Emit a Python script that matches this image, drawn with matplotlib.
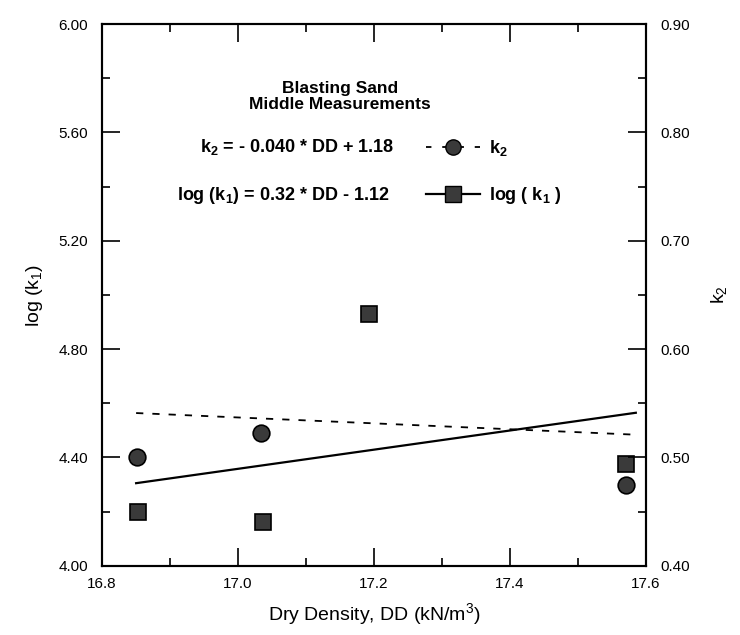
import matplotlib
matplotlib.use("Agg")
import matplotlib.pyplot as plt
from matplotlib.lines import Line2D
from matplotlib.ticker import MultipleLocator, FormatStrFormatter

plt.rcParams["font.family"] = ["Liberation Sans", "DejaVu Sans"]
plt.rcParams["mathtext.fontset"] = "custom"
plt.rcParams["mathtext.rm"] = "Liberation Sans"
plt.rcParams["mathtext.bf"] = "Liberation Sans:bold"
plt.rcParams["mathtext.default"] = "regular"

# measured points
dd_k1 = [16.853, 17.037, 17.193, 17.570]
log_k1 = [4.20, 4.16, 4.93, 4.376]
dd_k2 = [16.852, 17.033, 17.570]
k2 = [0.500, 0.523, 0.475]

# fitted lines as drawn (end points)
fit_dd = [16.85, 17.585]
fit_log_k1 = [4.305, 4.565]
fit_k2 = [0.541, 0.521]

fig = plt.figure(figsize=(7.4, 6.35), dpi=100)
ax = fig.add_axes([0.138, 0.109, 0.735, 0.853])
ax2 = ax.twinx()

ax.plot(fit_dd, fit_log_k1, color="black", lw=1.6)
ax.plot(dd_k1, log_k1, linestyle="none", marker="s", ms=12,
        mfc="#3a3a3a", mec="black", mew=1.2)
ax2.plot(fit_dd, fit_k2, color="black", lw=1.3, dashes=(4, 5))
ax2.plot(dd_k2, k2, linestyle="none", marker="o", ms=12,
         mfc="#3a3a3a", mec="black", mew=1.2)

ax.set_xlim(16.8, 17.6)
ax.set_ylim(4.0, 6.0)
ax2.set_ylim(0.40, 0.90)

ax.xaxis.set_major_locator(MultipleLocator(0.2))
ax.xaxis.set_minor_locator(MultipleLocator(0.1))
ax.xaxis.set_major_formatter(FormatStrFormatter("%.1f"))
ax.yaxis.set_major_locator(MultipleLocator(0.4))
ax.yaxis.set_minor_locator(MultipleLocator(0.2))
ax.yaxis.set_major_formatter(FormatStrFormatter("%.2f"))
ax2.yaxis.set_major_locator(MultipleLocator(0.1))
ax2.yaxis.set_minor_locator(MultipleLocator(0.05))
ax2.yaxis.set_major_formatter(FormatStrFormatter("%.2f"))

ax.tick_params(axis="x", which="both", direction="in", top=True, labelsize=11, pad=8)
ax.tick_params(axis="y", which="both", direction="in", labelsize=11, pad=10)
ax2.tick_params(axis="y", which="both", direction="in", labelsize=11, pad=10)
for a in (ax, ax2):
    a.tick_params(which="major", length=13, width=1.2)
    a.tick_params(which="minor", length=6, width=1.2)
    for s in a.spines.values():
        s.set_linewidth(1.5)

ax.set_xlabel("Dry Density, DD (kN/m$^{3}$)", fontsize=14, labelpad=7)
ax.set_ylabel("log (k$_{1}$)", fontsize=14, labelpad=10)
ax2.set_ylabel("k$_{2}$", fontsize=14, rotation=90, labelpad=14)

ax.text(0.4375, 0.867, "Blasting Sand\nMiddle Measurements", transform=ax.transAxes,
        ha="center", va="center", fontsize=12.5, fontweight="bold", linespacing=1.1)
ax.text(0.358, 0.773, "k$_{2}$ = - 0.040 * DD + 1.18", transform=ax.transAxes,
        ha="center", va="center", fontsize=13, fontweight="bold")
ax.text(0.333, 0.684, "log (k$_{1}$) = 0.32 * DD - 1.12", transform=ax.transAxes,
        ha="center", va="center", fontsize=13, fontweight="bold")

handles = [
    Line2D([], [], color="black", lw=1.3, dashes=(3, 6), marker="o", ms=11,
           mfc="#3a3a3a", mec="black"),
    Line2D([], [], color="black", lw=1.6, marker="s", ms=11,
           mfc="#3a3a3a", mec="black"),
]
ax.legend(handles, ["k$_{2}$", "log ( k$_{1}$ )"], loc="upper left",
          bbox_to_anchor=(0.565, 0.82), frameon=False, handlelength=3.0,
          handletextpad=0.5, labelspacing=1.5,
          prop={"size": 13, "weight": "bold"})

fig.savefig("out.png", dpi=100)
